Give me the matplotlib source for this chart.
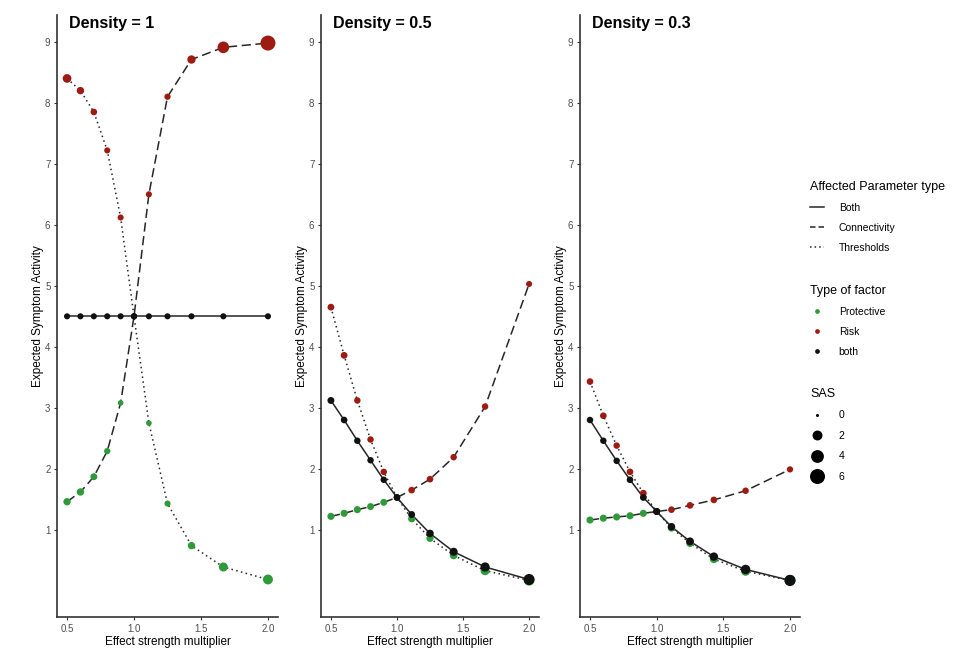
import numpy as np
import matplotlib
matplotlib.use("Agg")
import matplotlib.pyplot as plt
from matplotlib.lines import Line2D

plt.rcParams['font.family'] = ['Liberation Sans', 'DejaVu Sans']

# effect strength multipliers (x axis)
multiplier = [0.5, 0.6, 0.7, 0.8, 0.9, 1.0, 1.111, 1.25, 1.429, 1.667, 2.0]

densities = ['Density = 1', 'Density = 0.5', 'Density = 0.3']
param_types = ['Both', 'Connectivity', 'Thresholds']
factor_types = ['Protective', 'Risk', 'both']

# expected symptom activity, one list per density and parameter type
both_d1 = [4.5, 4.5, 4.5, 4.5, 4.5, 4.5, 4.5, 4.5, 4.5, 4.5, 4.5]
conn_d1 = [1.46, 1.62, 1.87, 2.29, 3.08, 4.5, 6.50, 8.10, 8.71, 8.91, 8.98]
thr_d1 = [8.40, 8.20, 7.85, 7.22, 6.12, 4.5, 2.75, 1.43, 0.74, 0.39, 0.185]

both_d05 = [3.12, 2.80, 2.46, 2.14, 1.82, 1.53, 1.25, 0.94, 0.64, 0.39, 0.185]
conn_d05 = [1.22, 1.27, 1.33, 1.38, 1.45, 1.53, 1.65, 1.83, 2.19, 3.02, 5.03]
thr_d05 = [4.65, 3.86, 3.12, 2.48, 1.95, 1.53, 1.18, 0.86, 0.58, 0.33, 0.17]

both_d03 = [2.80, 2.46, 2.13, 1.82, 1.53, 1.30, 1.05, 0.81, 0.56, 0.35, 0.17]
conn_d03 = [1.16, 1.19, 1.21, 1.23, 1.27, 1.30, 1.33, 1.40, 1.49, 1.64, 1.99]
thr_d03 = [3.43, 2.87, 2.38, 1.95, 1.60, 1.30, 1.03, 0.78, 0.52, 0.32, 0.17]

# type of factor for each point
factor_both = ['both'] * 11
factor_conn = ['Protective'] * 5 + ['both'] + ['Risk'] * 5
factor_thr = ['Risk'] * 5 + ['both'] + ['Protective'] * 5

# SAS per point
sas_both_d1 = [0.4] * 11
sas_conn_d1 = [0.8, 0.8, 0.65, 0.45, 0.3, 0.4, 0.4, 0.45, 1.2, 3.1, 6.0]
sas_thr_d1 = [1.35, 0.8, 0.55, 0.4, 0.4, 0.4, 0.3, 0.4, 0.8, 1.5, 2.0]

sas_both_d05 = [0.65, 0.55, 0.5, 0.5, 0.5, 0.5, 0.65, 0.85, 1.05, 1.6, 2.7]
sas_conn_d05 = [0.7, 0.7, 0.7, 0.65, 0.65, 0.5, 0.55, 0.55, 0.5, 0.5, 0.4]
sas_thr_d05 = [0.6, 0.6, 0.5, 0.5, 0.5, 0.5, 0.7, 0.75, 0.95, 1.5, 2.3]

sas_both_d03 = [0.5, 0.5, 0.5, 0.55, 0.6, 0.6, 0.85, 1.0, 1.2, 1.7, 2.8]
sas_conn_d03 = [0.7, 0.7, 0.7, 0.7, 0.7, 0.6, 0.55, 0.55, 0.55, 0.5, 0.45]
sas_thr_d03 = [0.55, 0.55, 0.5, 0.55, 0.6, 0.6, 0.8, 0.9, 1.1, 1.5, 2.5]

sas_legend = [0, 2, 4, 6]

panels = [
    (both_d1, conn_d1, thr_d1, sas_both_d1, sas_conn_d1, sas_thr_d1),
    (both_d05, conn_d05, thr_d05, sas_both_d05, sas_conn_d05, sas_thr_d05),
    (both_d03, conn_d03, thr_d03, sas_both_d03, sas_conn_d03, sas_thr_d03),
]

factor_colors = {'Protective': '#2e9a3a', 'Risk': '#9e1b12', 'both': '#111111'}
line_styles = {'Both': dict(ls='-'),
               'Connectivity': dict(dashes=(6, 3)),
               'Thresholds': dict(dashes=(1, 2.2))}
legend_styles = {'Both': dict(ls='-'),
                 'Connectivity': dict(dashes=(3.6, 2)),
                 'Thresholds': dict(dashes=(1, 2))}
line_col = '#262626'


def diam_px(sas):
    return 3 + 4.9 * np.sqrt(np.asarray(sas, dtype=float))


def marker_area(sas):
    return (diam_px(sas) * 0.72) ** 2


fig = plt.figure(figsize=(9.7, 6.51), dpi=100)
W, H = 970.0, 651.0
bottom = 1 - 617 / H
height = 602 / H
lefts = [(57, 221), (321, 218), (580, 220)]

for k, (left, width) in enumerate(lefts):
    ax = fig.add_axes([left / W, bottom, width / W, height])
    both, conn, thr, s_both, s_conn, s_thr = panels[k]
    series = [('Connectivity', conn, factor_conn, s_conn),
              ('Thresholds', thr, factor_thr, s_thr),
              ('Both', both, factor_both, s_both)]
    for name, ys, facs, ss in series:
        ax.plot(multiplier, ys, color=line_col, lw=1.1, zorder=1, **line_styles[name])
    for name, ys, facs, ss in series:
        cols = [factor_colors[f] for f in facs]
        ax.scatter(multiplier, ys, s=marker_area(ss), c=cols, linewidths=0, zorder=2)

    ax.set_xlim(0.425, 2.075)
    ax.set_ylim(-0.43, 9.44)
    ax.set_xticks([0.5, 1.0, 1.5, 2.0])
    ax.set_xticklabels(['0.5', '1.0', '1.5', '2.0'])
    ax.set_yticks(range(1, 10))
    for sp in ['top', 'right']:
        ax.spines[sp].set_visible(False)
    for sp in ['left', 'bottom']:
        ax.spines[sp].set_linewidth(1.2)
        ax.spines[sp].set_color('#333333')
    ax.tick_params(axis='both', length=2.2, width=0.8, color='#333333',
                   labelsize=7, labelcolor='#4d4d4d', pad=2.5)
    ax.set_xlabel('Effect strength multiplier', fontsize=8.5, labelpad=2)
    ax.set_ylabel('Expected Symptom Activity', fontsize=8.5, labelpad=1)
    ax.text(0.055, 0.998, densities[k], transform=ax.transAxes, ha='left', va='top',
            fontsize=11.5, fontweight='bold')

# legends
kw = dict(loc='upper left', frameon=False, fontsize=7.5, title_fontsize=9,
          handlelength=1.3, handletextpad=1.45, labelspacing=0.95, borderpad=0,
          borderaxespad=0, alignment='left')

h1 = [Line2D([], [], color=line_col, lw=1.1, **legend_styles[p]) for p in param_types]
fig.legend(handles=h1, labels=param_types, title='Affected Parameter type',
           bbox_to_anchor=(810 / W, 1 - 181 / H), **kw)

h2 = [Line2D([], [], ls='', marker='o', markersize=3.4, markeredgewidth=0,
             color=factor_colors[f]) for f in factor_types]
fig.legend(handles=h2, labels=factor_types, title='Type of factor',
           bbox_to_anchor=(810 / W, 1 - 285 / H), **kw)

kw3 = dict(kw, labelspacing=1.0)
h3 = [Line2D([], [], ls='', marker='o', markersize=float(diam_px(s)) * 0.72,
             markeredgewidth=0, color='black') for s in sas_legend]
fig.legend(handles=h3, labels=[str(s) for s in sas_legend], title='SAS',
           bbox_to_anchor=(810 / W, 1 - 388 / H), **kw3)

fig.savefig('out.png', dpi=100)
